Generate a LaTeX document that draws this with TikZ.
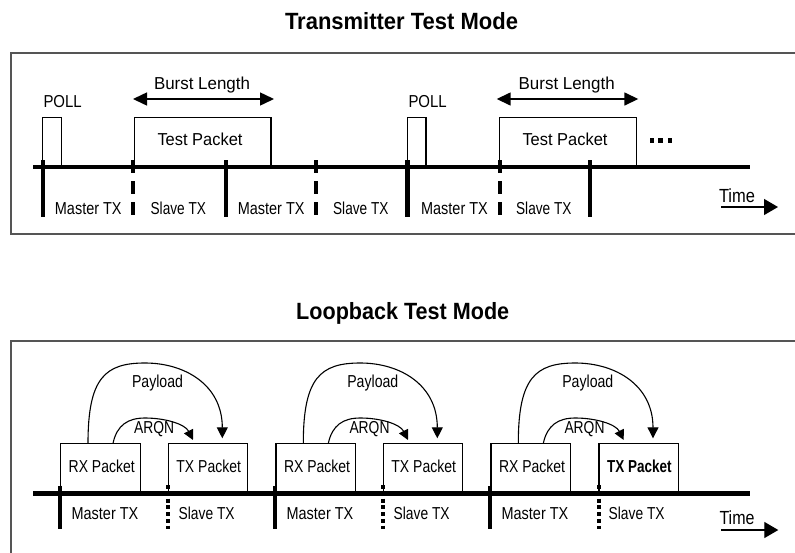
\documentclass[tikz,border=0pt]{standalone}
\usepackage{graphicx}
\usepackage{fontspec}
\setmainfont{Liberation Sans}
\usetikzlibrary{arrows.meta,calc}
% squeeze a label to a given width, keeping its height
\newcommand\fitw[2]{\resizebox{#1pt}{\height}{#2}}
\definecolor{framegray}{HTML}{555555}

\begin{document}
\begin{tikzpicture}[x=1pt,y=-1pt,
  frameline/.style={draw=framegray, line width=1.5pt},
  axisline/.style={line width=4.5pt},
  tickmark/.style={line width=4.3pt},
  dashtick/.style={tickmark, dash pattern=on 13pt off 8pt},
  dottick/.style={tickmark, dash pattern=on 4pt off 2.7pt},
  pkt/.style={draw, line width=1.2pt, inner sep=0pt, outer sep=0pt, anchor=south west},
  lbl/.style={inner sep=0pt, anchor=base, font=\fontsize{17.3}{19}\selectfont},
  timelbl/.style={inner sep=0pt, anchor=base, font=\fontsize{19}{21}\selectfont},
  ttl/.style={inner sep=0pt, anchor=base, font=\fontsize{23.5}{26}\selectfont\bfseries},
  burst/.style={line width=1.5pt, {Triangle[length=14pt,width=13pt]}-{Triangle[length=14pt,width=13pt]}},
  timearrow/.style={line width=1.3pt, -{Triangle[length=14pt,width=16pt]}},
  arcline/.style={line width=1.1pt, -{Triangle[length=11pt,width=11pt]}},
  arqnline/.style={line width=1.1pt, -{Triangle[length=10pt,width=10pt]}}
]
\useasboundingbox (0,0) rectangle (795,552);

% ---------------- Transmitter test mode ----------------
\node[ttl] (title1) at (401.5,29) {\fitw{233}{Transmitter Test Mode}};
\draw[frameline] (796,53) -- (11,53) -- (11,234) -- (796,234);

% packets
\node[pkt, minimum width=18.6pt, minimum height=49.7pt] (poll1) at (42.7,167) {};
\node[pkt, minimum width=18.6pt, minimum height=49.7pt] (poll2) at (407.3,167) {};
\node[pkt, minimum width=136.7pt, minimum height=49.7pt] (test1) at (134.3,167) {};
\node[pkt, minimum width=137.4pt, minimum height=49.7pt] (test2) at (499.3,167) {};

\node[lbl, anchor=base west] (polll1) at (43.3,107) {\fitw{38.3}{POLL}};
\node[lbl, anchor=base west] (polll2) at (408.3,107) {\fitw{38.3}{POLL}};
\node[lbl] (testl1) at (200,145) {\fitw{85}{Test Packet}};
\node[lbl] (testl2) at (565,145) {\fitw{85}{Test Packet}};

% burst length
\coordinate (bl1) at (133,99);  \coordinate (br1) at (274,99);
\coordinate (bl2) at (496.7,99); \coordinate (br2) at (638.3,99);
\draw[burst] (bl1) -- (br1);
\draw[burst] (bl2) -- (br2);
\node[lbl] (burstl1) at (202,89) {\fitw{96}{Burst Length}};
\node[lbl] (burstl2) at (566.7,89) {\fitw{96}{Burst Length}};

% continuation dots
\fill (649.8,138.3) rectangle +(4.4,4.4);
\fill (658.4,138.3) rectangle +(4.4,4.4);
\fill (667.6,138.3) rectangle +(4.4,4.4);

% time axis and slot boundaries
\draw[axisline] (33,167) -- (750,167);
\foreach \x in {43.3,225.7,407.5,589.7} \draw[tickmark] (\x,160) -- (\x,216.5);
\foreach \x in {133,316,499.7} \draw[dashtick] (\x,160) -- (\x,216.5);

\foreach \x/\w/\t in {88.3/66.7/Master TX, 178.3/55.3/Slave TX, 271.2/66.7/Master TX,
                      360.8/55.3/Slave TX, 454.5/66.7/Master TX, 543.8/55.3/Slave TX}
  \node[lbl] at (\x,214) {\fitw{\w}{\t}};

\node[timelbl] (time1) at (737,202) {\fitw{36}{Time}};
\coordinate (ts1) at (721,207); \coordinate (te1) at (778,207);
\draw[timearrow] (ts1) -- (te1);

% ---------------- Loopback test mode ----------------
\node[ttl] (title2) at (402.7,319) {\fitw{213}{Loopback Test Mode}};
\draw[frameline] (796,341) -- (11,341) -- (11,553);

\foreach \i/\r/\t in {1/60.7/168.3, 2/276/383.3, 3/491/599} {
  \node[pkt, minimum width=79.4pt, minimum height=49.7pt] (rx\i) at (\r,493) {};
  \node[pkt, minimum width=79.4pt, minimum height=49.7pt] (tx\i) at (\t,493) {};
  \node[lbl] (rxl\i) at (\r+41,472.7) {\fitw{66}{RX Packet}};
  \node[lbl] (txl\i) at (\t+40.4,472.7) {\ifnum\i=3\bfseries\fi\fitw{64.5}{TX Packet}};
  % payload loop-back
  \draw[arcline] ([xshift=27.3pt]rx\i.north west)
     .. controls +(0,-65.3) and +(-40,0) .. ++(57,-80.3)
     .. controls +(40,0) and +(0,-53.3) .. ([xshift=54pt,yshift=5pt]tx\i.north west);
  \node[lbl] (payl\i) at (\r+96.8,387.5) {\fitw{51}{Payload}};
  % acknowledgement
  \draw[arqnline] ([xshift=52.3pt]rx\i.north west)
     .. controls +(4,-18.3) and +(-17,0) .. ++(32,-25.3)
     .. controls +(20,0) and +(-8,-16) .. ([xshift=24.7pt,yshift=3.3pt]tx\i.north west);
  \node[lbl] (arqnl\i) at (\r+93.5,433.5) {\fitw{40}{ARQN}};
}

\draw[axisline] (33,493.3) -- (750,493.3);
\foreach \x in {60,275,490} \draw[tickmark] (\x,485.7) -- (\x,528.5);
\foreach \x in {168.3,383,598.7} \draw[dottick] (\x,485.3) -- (\x,529.3);

\foreach \x/\w/\t in {105/66.7/Master TX, 206.7/56/Slave TX, 320/66.7/Master TX,
                      421.7/56/Slave TX, 535/66.7/Master TX, 636.7/56/Slave TX}
  \node[lbl] at (\x,519) {\fitw{\w}{\t}};

\node[timelbl] (time2) at (737,524) {\fitw{35}{Time}};
\coordinate (ts2) at (721,530); \coordinate (te2) at (778.3,530);
\draw[timearrow] (ts2) -- (te2);
\end{tikzpicture}
\end{document}
